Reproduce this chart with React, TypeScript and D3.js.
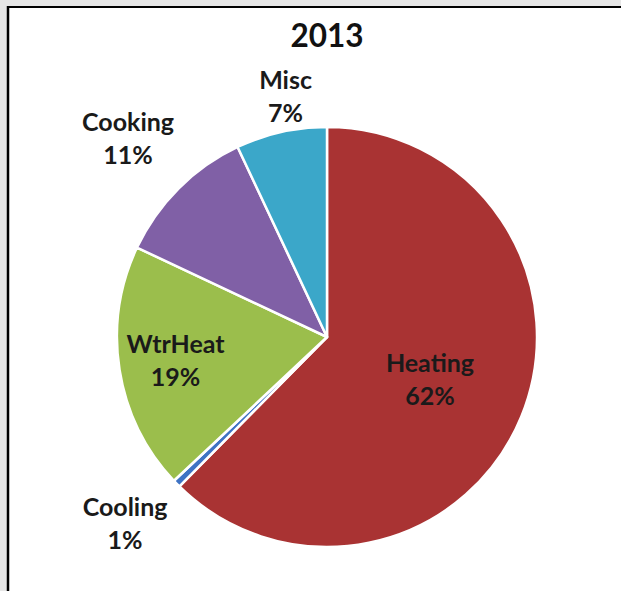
import React, { useEffect } from "react";
import * as d3 from "d3";

const title = "2013";
const categories = ["Heating", "Cooling", "WtrHeat", "Cooking", "Misc"];
const values = [62.4, 0.6, 19, 11, 7];
const colors = ["#A93333", "#3E73C4", "#9BBE4C", "#8060A6", "#3BA7C9"];
// label placement (layout only): distance as fraction of radius, angular nudge in degrees
const labelRadiusFactor = [0.53, 1.31, 0.73, 1.34, 1.16];
const labelAngleNudge = [0, 1.5, 0, 0, 2.8];

const W = 621;
const H = 591;
const cx = 327;
const cy = 337;
const R = 210;

export default function App() {
  useEffect(() => {
    document.documentElement.style.overflow = "hidden";
    document.body.style.overflow = "hidden";
    document.body.style.margin = "0";
  }, []);

  const data = categories.map((c, i) => ({
    name: c,
    value: values[i],
    color: colors[i],
    lr: labelRadiusFactor[i],
    nudge: labelAngleNudge[i],
  }));
  const pie = d3
    .pie<any>()
    .sort(null)
    .value((d: any) => d.value)
    .startAngle(0)
    .endAngle(2 * Math.PI);
  const arcs = pie(data);
  const arc = d3.arc<any>().innerRadius(0).outerRadius(R);
  const total = d3.sum(values);
  const fmt = (v: number) => `${Math.round((v / total) * 100)}%`;

  return (
    <svg
      width={W}
      height={H}
      style={{ position: "fixed", left: 0, top: 0, display: "block" }}
      fontFamily="Lato, 'Open Sans', sans-serif"
    >
      <rect x={0} y={0} width={W} height={H} fill="#e6e6e6" />
      <rect x={8} y={7} width={W} height={H} fill="#ffffff" />
      <line x1={8} y1={7} x2={W} y2={7} stroke="#000" strokeWidth={2} />
      <line x1={8} y1={6} x2={8} y2={H} stroke="#000" strokeWidth={2.5} />
      <text x={cx} y={47} textAnchor="middle" fontSize={31.5} fontWeight={700} fill="#111">
        {title}
      </text>
      <g transform={`translate(${cx},${cy})`}>
        {arcs.map((a, i) => (
          <path key={i} d={arc(a) as string} fill={a.data.color} stroke="#fff" strokeWidth={2.5} strokeLinejoin="round" />
        ))}
        {arcs.map((a, i) => {
          const lr = a.data.lr * R;
          const shift = (a.data.nudge * Math.PI) / 180;
          const la = d3.arc<any>().innerRadius(lr).outerRadius(lr);
          const [lx, ly] = la.centroid({ ...a, startAngle: a.startAngle + shift, endAngle: a.endAngle + shift });
          return (
            <text key={"l" + i} x={lx} y={ly - 7.5} textAnchor="middle" fontSize={25} fontWeight={700} fill="#1a1a1a">
              <tspan x={lx}>{a.data.name}</tspan>
              <tspan x={lx} dy={33}>
                {fmt(a.data.value)}
              </tspan>
            </text>
          );
        })}
      </g>
    </svg>
  );
}
